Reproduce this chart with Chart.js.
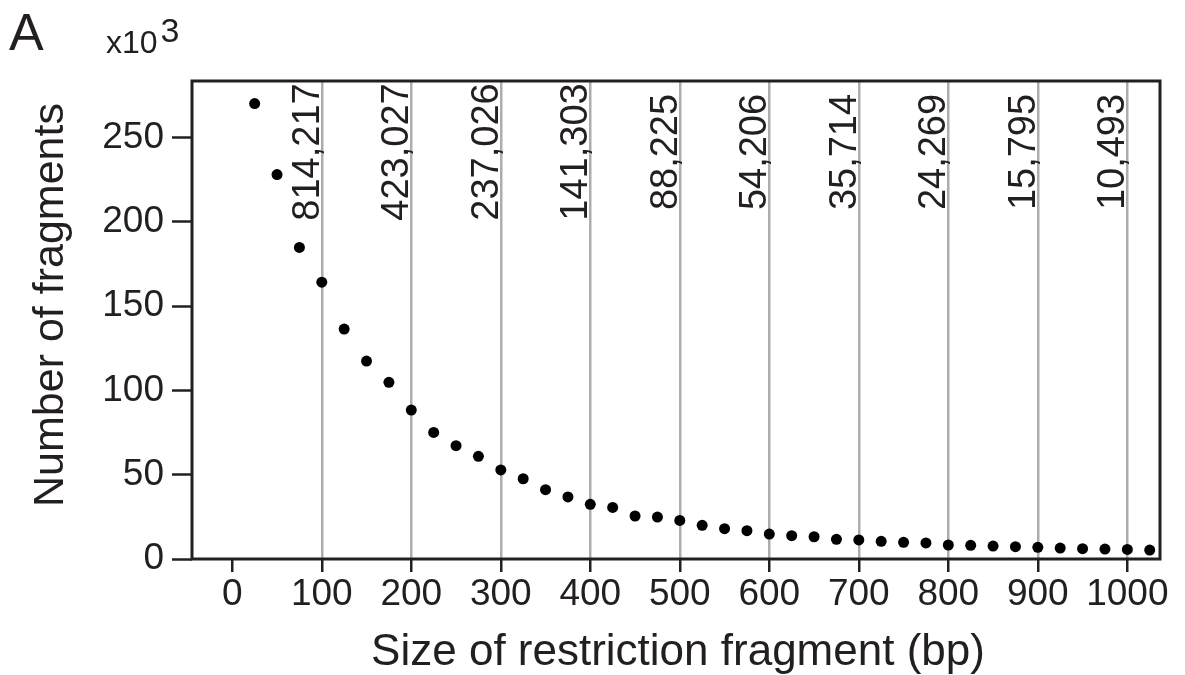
<!DOCTYPE html>
<html>
<head>
<meta charset="utf-8">
<script src="https://cdn.jsdelivr.net/npm/chart.js@4"></script>
<style>
    html, body { margin: 0; padding: 0; background: #fff; }
    #wrap { width: 1185px; height: 675px; position: relative; }
</style>
</head>
<body>
<div id="wrap"><canvas id="fragChart"></canvas></div>
<script>
    // fragment size (bp) and number of fragments (x10^3)
    const sizes = [25, 50, 75, 100, 125, 150, 175, 200, 225, 250, 275, 300, 325, 350, 375, 400,
        425, 450, 475, 500, 525, 550, 575, 600, 625, 650, 675, 700, 725, 750, 775, 800,
        825, 850, 875, 900, 925, 950, 975, 1000, 1025];
    const counts = [270.1, 228, 184.8, 164.2, 136.4, 117.4, 104.8, 88.3, 75.1, 67.2, 60.9, 52.8, 47.6, 41.1, 36.8, 32.4,
        30.6, 25.5, 24.9, 22.9, 20.0, 18.0, 16.8, 14.8, 13.8, 13.2, 11.7, 11.3, 10.5, 9.9, 9.5, 8.3,
        8.1, 7.7, 7.3, 6.9, 6.5, 6.1, 5.9, 5.7, 5.3];

    // cumulative counts written next to each reference line
    const lineSizes = [100, 200, 300, 400, 500, 600, 700, 800, 900, 1000];
    const lineLabels = ['814,217', '423,027', '237,026', '141,303', '88,225', '54,206', '35,714', '24,269', '15,795', '10,493'];

    const xTicks = [0, 100, 200, 300, 400, 500, 600, 700, 800, 900, 1000];
    const yTicks = [0, 50, 100, 150, 200, 250];

    const xTitle = 'Size of restriction fragment (bp)';
    const yTitle = 'Number of fragments';

    const ink = '#231f20';
    const fontFamily = '"Liberation Sans", Arial, Helvetica, sans-serif';

    const extras = {
        id: 'extras',
        afterDatasetsDraw(chart) {
            const ctx = chart.ctx;
            const area = chart.chartArea;
            const x = chart.scales.x;
            ctx.save();
            // frame
            ctx.strokeStyle = ink;
            ctx.lineWidth = 3;
            ctx.strokeRect(area.left, area.top, area.right - area.left, area.bottom - area.top);

            ctx.fillStyle = ink;
            ctx.textBaseline = 'alphabetic';

            // rotated labels by the lines
            ctx.font = '38px ' + fontFamily;
            ctx.textAlign = 'center';
            lineSizes.forEach((v, i) => {
                const px = x.getPixelForValue(v);
                ctx.save();
                ctx.translate(px - 3, 152);
                ctx.rotate(-Math.PI / 2);
                ctx.fillText(lineLabels[i], 0, 0);
                ctx.restore();
            });

            // axis titles
            ctx.font = '44px ' + fontFamily;
            ctx.fillText(xTitle, (area.left + area.right) / 2 + 2, 665);
            ctx.save();
            ctx.translate(63, 305);
            ctx.rotate(-Math.PI / 2);
            ctx.font = '43px ' + fontFamily;
            ctx.fillText(yTitle, 0, 0);
            ctx.restore();

            // panel letter and unit
            ctx.textAlign = 'left';
            ctx.font = '52px ' + fontFamily;
            ctx.fillText('A', 9, 50);
            ctx.font = '32px ' + fontFamily;
            ctx.fillText('x10', 106, 53);
            const w = ctx.measureText('x10').width;
            ctx.font = '34px ' + fontFamily;
            ctx.fillText('3', 106 + w + 3, 42);
            ctx.restore();
        }
    };

    const ctx = document.getElementById('fragChart').getContext('2d');
    new Chart(ctx, {
        type: 'scatter',
        data: {
            datasets: [{
                data: sizes.map((s, i) => ({ x: s, y: counts[i] })),
                backgroundColor: '#000',
                borderColor: '#000',
                pointRadius: 5.5,
                pointBorderWidth: 0
            }]
        },
        options: {
            responsive: true,
            maintainAspectRatio: false,
            animation: false,
            layout: { padding: { top: 81, right: 25, left: 0, bottom: 0 } },
            plugins: { legend: { display: false }, tooltip: { enabled: false } },
            scales: {
                x: {
                    type: 'linear',
                    min: -45,
                    max: 1036.5,
                    afterBuildTicks: s => { s.ticks = xTicks.map(v => ({ value: v })); },
                    afterFit: s => { s.height = 116; },
                    border: { display: false },
                    grid: {
                        drawOnChartArea: true,
                        color: c => (c.tick && c.tick.value === 0) ? 'rgba(0,0,0,0)' : '#abadb0',
                        lineWidth: 2.5,
                        tickColor: ink,
                        tickLength: 13,
                        tickWidth: 2.5
                    },
                    ticks: {
                        color: ink,
                        font: { family: fontFamily, size: 37 },
                        padding: 1,
                        maxRotation: 0,
                        autoSkip: false,
                        callback: v => String(v)
                    }
                },
                y: {
                    type: 'linear',
                    min: 0,
                    max: 283.5,
                    afterBuildTicks: s => { s.ticks = yTicks.map(v => ({ value: v })); },
                    afterFit: s => { s.width = 192; },
                    border: { display: false },
                    grid: {
                        drawOnChartArea: false,
                        tickColor: ink,
                        tickLength: 20,
                        tickWidth: 2.5
                    },
                    ticks: {
                        color: ink,
                        font: { family: fontFamily, size: 37 },
                        padding: 8,
                        callback: v => String(v)
                    }
                }
            }
        },
        plugins: [extras]
    });
</script>
</body>
</html>
